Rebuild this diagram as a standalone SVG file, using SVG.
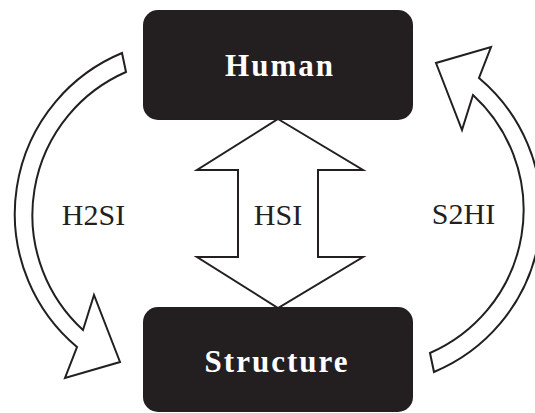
<svg xmlns="http://www.w3.org/2000/svg" width="535" height="413" viewBox="0 0 535 413">
<style>
.arrow{fill:#fff;stroke:#231f20;stroke-width:2;stroke-linejoin:miter}
.box{fill:#231f20}
.nodetext{font-family:"Liberation Serif","Times New Roman",serif;font-weight:bold;font-size:31px;fill:#fff;letter-spacing:2px;text-anchor:middle}
.label{font-family:"Liberation Serif","Times New Roman",serif;font-size:30px;fill:#231f20;text-anchor:middle}
</style>
<defs>
<path id="curved" d="M122,53 A174,174 0 0 0 77,347 L65,378 L120,362 L94,295 L83,330 A156,156 0 0 1 126,72 Z"/>
</defs>
<rect width="535" height="413" fill="#fff"/>
<g id="connectors">
<use id="h2si" href="#curved" class="arrow"/>
<use id="s2hi" href="#curved" class="arrow" transform="rotate(180 278 212.5)"/>
<polygon id="hsi" class="arrow" points="278,119 363,170 318,170 318,257 363,257 278,308 197,257 238,257 238,170 197,170"/>
<text class="label" x="93.5" y="225">H2SI</text>
<text class="label" x="278" y="225">HSI</text>
<text class="label" x="463.5" y="224">S2HI</text>
</g>
<g id="human">
<rect class="box" x="143" y="10" width="270" height="110" rx="15"/>
<text class="nodetext" x="280" y="76">Human</text>
</g>
<g id="structure">
<rect class="box" x="143" y="307" width="270" height="105" rx="15"/>
<text class="nodetext" x="277" y="372">Structure</text>
</g>
</svg>
